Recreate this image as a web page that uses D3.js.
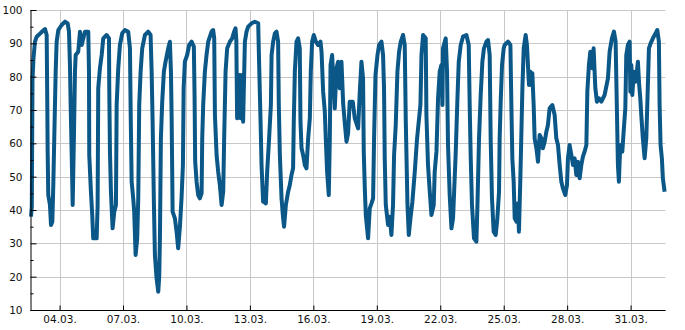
<!DOCTYPE html>
<html>
<head>
<meta charset="utf-8">
<script src="https://cdn.jsdelivr.net/npm/d3@7"></script>
<style>
  html, body { margin: 0; padding: 0; background: #fff; }
  svg { display: block; font-family: "DejaVu Sans", sans-serif; }
</style>
</head>
<body>
<svg id="chart" width="685" height="330"></svg>
<script>
// ---- data ----
// series start time and offsets in hours from it
const seriesStart = new Date(2024, 2, 2, 15, 36);
const hoursFromStart = [
  0, 0.9, 1.7, 2.8, 4.5, 6.5, 9.4, 13.3, 15.9, 17.8, 18.5, 18.9, 19.6, 21.5, 22.7, 24.2, 25.3, 26.4, 28.0, 29.1,
  31.0, 34.8, 38.6, 41.6, 43.1, 44.2, 45.0, 46.2, 47.3, 48.8, 49.9, 50.7, 53.6, 55.6, 57.5, 61.2, 65.0, 65.8, 66.1, 68.0,
  69.5, 70.6, 74.5, 75.6, 76.3, 78.2, 80.2, 82.0,
  85.8, 88.5, 88.8, 89.6, 90.7, 92.6, 94.5, 96.4, 97.2, 99.0, 100.9, 103.5, 106.6, 110.3, 112.3, 113.1, 114.2, 116.0,
  117.1, 118.7, 120.5, 121.7, 122.8, 124.4, 126.2, 129.3, 133.0, 135.7, 136.9, 138.0, 139.5, 140.6, 142.5, 144.4, 145.5,
  146.3, 147.4, 148.9, 150.8, 152.7, 155.7, 157.6, 158.8, 159.6, 160.7, 163.3, 165.2, 167.0, 169.0, 170.9, 172.4, 173.2, 174.6,
  177.2, 179.5, 182.2, 184.8, 185.6, 186.3, 187.9, 189.7, 191.6, 193.6, 194.3, 195.4, 197.3, 199.2, 201.1, 204.9, 206.7,
  207.9, 208.7, 210.6, 212.4, 214.3, 216.3, 218.1, 219.2, 220.8, 222.6, 225.7, 228.3, 230.5, 232.1, 233.0, 233.9, 235.1,
  237.0, 238.1, 239.3, 240.7, 242.7, 244.6, 246.4, 250.3, 254.0, 257.8, 258.9, 260.5, 261.6, 263.4,
  264.2, 266.5, 268.0, 270.2, 272.2, 273.0, 274.8, 276.7, 278.6, 280.4, 281.2, 282.4, 284.3, 286.1, 287.2, 289.2, 291.8,
  293.7, 295.6, 297.4, 298.2, 299.4, 301.3, 303.1, 305.0, 305.8, 307.0, 308.8, 310.7, 312.6, 314.5, 316.4, 317.5, 319.0,
  320.9, 323.2, 325.8, 328.5, 329.7, 331.5, 333.4, 334.5, 336.0, 337.9, 339.1, 339.9, 341.7, 343.6, 344.7, 346.7, 348.5,
  350.4, 352.3,
  354.2, 356.1, 358.0, 359.8, 361.7, 365.1, 367.4, 371.2, 373.1, 375.0, 376.8, 377.6, 378.8, 379.9, 382.5, 384.4, 386.4,
  388.2, 389.3, 390.9, 393.2, 395.0, 397.7, 399.5, 400.6, 401.4, 402.6, 405.2, 407.1, 409.0, 410.8, 412.0, 413.9, 415.8,
  417.7, 419.6, 422.2, 424.1, 425.3, 427.2, 428.7, 430.6, 432.8, 435.5, 438.1, 440.0, 441.9, 443.1, 444.9,
  447.9, 448.7, 450.5, 452.5, 454.4, 457.0, 458.1, 460.1, 461.9, 463.8, 465.7, 466.9, 467.5, 470.6, 472.1, 473.2, 475.1,
  477.1, 478.9, 480.0, 482.0, 483.9, 485.4, 487.6, 490.2, 494.1, 496.7, 497.8, 499.0, 500.4, 502.7, 505.4, 506.6, 508.4,
  510.3, 512.2, 514.0, 516.8, 518.6, 520.5, 521.6, 523.1, 525.0, 527.3, 529.2, 531.1, 531.8, 533.0, 534.5, 536.4,
  537.5, 541.3, 544.0, 545.1, 546.2, 547.7, 548.9, 550.8, 552.6, 553.7, 555.3, 556.5, 557.6, 559.1, 561.3, 562.8, 563.9,
  565.1, 566.7, 567.8, 568.9, 570.4, 571.5, 573.5, 575.3, 577.2, 579.1, 580.9, 582.9, 584.8, 586.6, 588.5, 591.6, 594.2,
  596.1, 598.0, 599.9, 601.8, 603.6, 606.3, 608.2, 609.3, 611.2, 613.2, 615.0, 616.9, 618.8, 620.6, 622.6, 624.5, 626.3, 628.2,
  630.2, 631.3, 633.1, 634.7, 637.0, 638.4, 640.4, 642.2, 644.5, 647.2, 650.9, 654.7, 656.6, 659.2, 661.5, 663.4, 664.9,
  666.0, 667.1, 668.7, 671.0, 672.5, 674.4, 675.5, 677.3, 679.3, 680.1, 681.2, 682.3, 684.1, 685.7, 687.5, 688.7, 690.0,
  691.4, 692.5, 694.3, 696.3, 698.2, 700.0, 701.2, 703.1, 705.7, 708.8, 710.7, 712.5, 713.3, 714.4, 715.9, 717.0, 719.0
];
const humidity = [
  38, 41, 79, 85.5, 90.5, 92, 92.7, 93.7, 94.3, 92.5, 71.5, 57.5, 44.5, 41.5, 35.5, 36.5, 47.5, 61.5, 81.5, 90.5,
  94, 95.5, 96.5, 96, 93.5, 83.5, 71.5, 56.5, 41.5, 63.5, 81.5, 86.5, 87.5, 93.5, 89.5, 93.5, 93.5, 81.5, 56.5, 45.5,
  38.5, 31.5, 31.5, 41.5, 76.5, 82.5, 86.5, 91.5,
  92.5, 91.5, 76.5, 57.5, 45.5, 34.5, 39.5, 41.5, 71.5, 82.5, 89.5, 93, 94, 93.5, 88.5, 69.5, 48.5, 43.5,
  39.5, 26.5, 31.5, 43.5, 71.5, 81.5, 88.5, 92.5, 93.5, 92.5, 81.5, 66.5, 41.5, 26.5, 19.5, 15.5, 20,
  31.5, 61.5, 72.5, 81.5, 84.5, 88.5, 90.5, 81.5, 67.5, 39.5, 37.5, 33.5, 28.5, 35, 44, 53.5, 76.5, 84.5,
  86.5, 89.5, 90.5, 89, 74.5, 54.5, 48.5, 44.5, 43.5, 45, 61.5, 71.5, 81.5, 86.5, 90.5, 93.5, 94,
  91.5, 68.5, 56.5, 51.5, 47.5, 41.5, 45.5, 61.5, 81.5, 88.5, 90.5, 91.5, 93.5, 94.5, 91, 67.5, 79.5,
  80.5, 67.5, 80.5, 66.5, 90.5, 93.5, 95, 96, 96.5, 96, 83.5, 66.5, 53.5, 42.5,
  42.5, 42, 51.5, 61.5, 71.5, 86.5, 90.5, 93, 93.5, 90.5, 71.5, 56.5, 43.5, 37.5, 35, 41.5, 45.5,
  47.5, 50.5, 52.5, 66.5, 81.5, 90.5, 91.5, 88.5, 66.5, 58.5, 56.5, 53.5, 52.5, 61.5, 67.5, 81.5, 90.5,
  92.5, 90.5, 89.5, 90.5, 87.5, 75.5, 69.5, 61.5, 51.5, 44.5, 61.5, 83.5, 86.5, 76.5, 70.5, 82.5, 84.5,
  76.5, 84.5,
  72, 66, 60.5, 63, 72.5, 72.5, 67.5, 64.5, 75.5, 84.5, 79.5, 57.5, 46.5, 38.5, 31.5, 40.5, 42,
  43.5, 61.5, 80.5, 86.5, 89.5, 90.5, 86.5, 76.5, 55.5, 41.5, 35.5, 38, 32.5, 41.5, 56.5, 65.5, 81.5,
  87.5, 90.5, 92.5, 89.5, 66.5, 41.5, 32.5, 37.5, 42.5, 51.5, 61.5, 66.5, 71.5, 86.5, 92.5,
  91.5, 68.5, 53.5, 45.5, 38.5, 41.5, 51.5, 57.5, 73.5, 81.5, 83.5, 71.5, 88.5, 91.5, 81.5, 59.5, 44.5,
  34.5, 37.5, 44.5, 57.5, 73.5, 84.5, 89.5, 92, 92.5, 89.5, 71.5, 55.5, 41.5, 31.5, 30.5, 41.5, 61.5,
  74.5, 84.5, 88.5, 90.5, 91, 86.5, 61.5, 43.5, 33.5, 32.5, 37.5, 45.5, 61.5, 72.5, 83.5, 88.5,
  89.5, 90.5, 89.5, 71.5, 55.5, 48.5, 37.5, 36.5, 42, 33.5, 49.5, 63.5, 76.5, 88.5, 92.5, 89.5, 83.5,
  77.5, 81.5, 77.5, 81, 71.5, 61.5, 58.5, 54.5, 62.5, 61.5, 58.5, 60.5, 63.5, 65.5, 70.5, 71.5, 68.5,
  61.5, 59.5, 53.5, 48.5, 46.5, 44.5, 47.5, 55.5, 59.5, 56.5, 53.5, 55.5, 50.5, 54.5, 49.5, 53.5, 56, 57.5,
  59.5, 75.5, 83.5, 87.5, 82.5, 88.5, 76.5, 72.5, 73.5, 72.5, 74.5, 79.5, 87.5, 91.5, 93.5, 90.5, 69.5,
  53.5, 48.5, 59.5, 57.5, 63.5, 70.5, 86.5, 89.5, 90.5, 75.5, 83.5, 74.5, 81.5, 78.5, 81.5, 84.5, 78,
  73.5, 68.5, 61.5, 55.5, 61.5, 77.5, 88.5, 90, 91.5, 93, 94, 90.5, 71.5, 59.5, 55.5, 49.5, 45.5
];
const seriesEnd = new Date(2024, 2, 2 + 30, 15, 36);
const yTickValues = [10, 20, 30, 40, 50, 60, 70, 80, 90, 100];
const yMinorTickValues = [15, 25, 35, 45, 55, 65, 75, 85, 95];
const xTickDays = [4, 7, 10, 13, 16, 19, 22, 25, 28, 31]; // March 2024
const xTickLabels = ["04.03.", "07.03.", "10.03.", "13.03.", "16.03.", "19.03.", "22.03.", "25.03.", "28.03.", "31.03."];

// ---- build ----
const data = hoursFromStart.map((h, i) => ({
  t: new Date(seriesStart.getTime() + h * 3600e3),
  v: humidity[i]
}));
const xTickDates = xTickDays.map(d => new Date(2024, 2, d));

const W = 685, H = 330;
const margin = { left: 30.5, right: 19.5, top: 10, bottom: 20 };
const svg = d3.select("#chart");

const x = d3.scaleTime().domain([seriesStart, seriesEnd]).range([margin.left + 0.5, W - margin.right]);
const y = d3.scaleLinear().domain([10, 100]).range([H - margin.bottom, margin.top]);

const grid = svg.append("g");
grid.selectAll("line.h").data(yTickValues).join("line")
  .attr("x1", margin.left).attr("x2", W - margin.right)
  .attr("y1", d => Math.round(y(d)) + 0.5).attr("y2", d => Math.round(y(d)) + 0.5)
  .attr("stroke", "#c8c8c8").attr("stroke-width", 1);
grid.selectAll("line.v").data(xTickDates).join("line")
  .attr("x1", d => Math.round(x(d)) + 0.5).attr("x2", d => Math.round(x(d)) + 0.5)
  .attr("y1", margin.top).attr("y2", H - margin.bottom)
  .attr("stroke", "#c8c8c8").attr("stroke-width", 1);

// line
const line = d3.line().x(d => x(d.t)).y(d => y(d.v));
svg.append("path").datum(data)
  .attr("d", line)
  .attr("fill", "none")
  .attr("stroke", "#0b5787")
  .attr("stroke-width", 4)
  .attr("stroke-linejoin", "round")
  .attr("stroke-linecap", "butt");

// y axis (ticks inward)
const yAxis = d3.axisLeft(y).tickValues(yTickValues).tickSize(-6).tickPadding(8).tickFormat(d3.format("d"));
const gy = svg.append("g").attr("transform", `translate(${margin.left},0)`).call(yAxis);
gy.select(".domain").attr("stroke", "#000").attr("d", `M0.5,${margin.top}V${H - margin.bottom + 0.5}`);
gy.selectAll(".tick line").attr("stroke", "#000");
gy.selectAll(".tick text").attr("font-size", 10.5).attr("fill", "#111").attr("font-family", "DejaVu Sans");
const yMinor = d3.axisLeft(y).tickValues(yMinorTickValues).tickSize(-3).tickFormat("");
const gym = svg.append("g").attr("transform", `translate(${margin.left},0)`).call(yMinor);
gym.select(".domain").remove();
gym.selectAll(".tick line").attr("stroke", "#000");

// x axis (ticks inward)
const xAxis = d3.axisBottom(x).tickValues(xTickDates).tickSize(-5).tickPadding(5)
  .tickFormat((d, i) => xTickLabels[i]);
const gx = svg.append("g").attr("transform", `translate(0,${H - margin.bottom + 0.5})`).call(xAxis);
gx.select(".domain").attr("stroke", "#000").attr("d", `M${margin.left},0H${W - margin.right}`);
gx.selectAll(".tick line").attr("stroke", "#000");
gx.selectAll(".tick text").attr("font-size", 10.5).attr("fill", "#111").attr("font-family", "DejaVu Sans");
</script>
</body>
</html>
